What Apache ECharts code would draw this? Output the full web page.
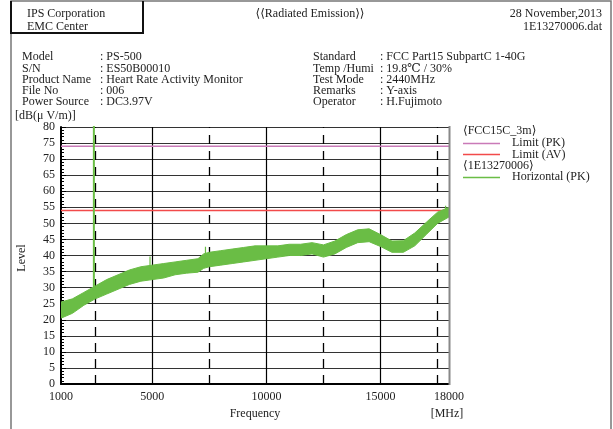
<!DOCTYPE html>
<html>
<head>
<meta charset="utf-8">
<script src="https://cdn.jsdelivr.net/npm/echarts@6/dist/echarts.min.js"></script>
<style>
  html, body { margin: 0; padding: 0; background: #fff; }
  #chart { width: 613px; height: 429px; }
</style>
</head>
<body>
<div id="chart"></div>
<script>
// Measured trace envelope (dBµV/m) of the horizontal peak scan
const freqMHz   = [1000, 1500, 2000, 2500, 3000, 3500, 4000, 4500, 5000, 5500, 6000, 6500, 7000, 7250, 7500, 8000, 8500, 9000, 9500, 10000, 10500, 11000, 11500, 12000, 12500, 13000, 13500, 14000, 14500, 15000, 15500, 16000, 16500, 17000, 17500, 18000];
const traceLow  = [20.5, 22.0, 24.5, 26.5, 28.0, 29.5, 31.0, 32.0, 32.5, 33.0, 34.0, 34.5, 34.8, 36.0, 36.5, 37.0, 37.5, 38.0, 38.5, 39.0, 39.5, 40.0, 40.0, 40.5, 39.5, 40.5, 42.5, 44.0, 44.3, 42.8, 41.0, 41.0, 43.0, 46.5, 50.0, 52.0];
const traceHigh = [25.5, 26.5, 28.5, 30.5, 32.5, 34.0, 35.5, 36.5, 37.0, 37.5, 38.0, 38.5, 39.0, 40.5, 41.0, 41.5, 42.0, 42.5, 43.0, 43.0, 43.0, 43.5, 43.5, 44.0, 43.3, 44.5, 46.5, 48.0, 48.3, 46.5, 44.5, 44.6, 47.0, 50.3, 53.5, 55.0];

// Narrow spikes on top of the trace (carrier at 2440 MHz runs off scale)
const spikeFreq = [2440, 4900, 7330, 17850];
const spikeBase = [29.0, 36.0, 39.0, 52.0];
const spikeTop  = [100, 39.7, 42.7, 55.5];

// FCC Part15 SubpartC limits
const limitPK = 74;
const limitAV = 54;

const xLabelValues = [1000, 5000, 10000, 15000, 18000];
const xSolidGrid   = [5000, 10000, 15000];
const xDashedGrid  = [2500, 7500, 12500, 17500];

const FONT = "'Liberation Serif', 'DejaVu Serif', serif";
const TXT = '#222';
const GREEN = '#6abd45';
const PINK = '#c97ab8';
const RED = '#f24a4a';

const chart = echarts.init(document.getElementById('chart'), null, { renderer: 'canvas' });

const bandItems = freqMHz.map((f, i) => [f, traceLow[i], traceHigh[i]]);

// The whole envelope is drawn as one polygon from the first item
function renderBand(params, api) {
  if (params.dataIndex !== 0) return null;
  const upper = bandItems.map(d => api.coord([d[0], d[2]]));
  const lower = bandItems.map(d => api.coord([d[0], d[1]])).reverse();
  return {
    type: 'polygon',
    shape: { points: upper.concat(lower) },
    style: { fill: GREEN, stroke: GREEN, lineWidth: 1 }
  };
}

const spikeSeries = spikeFreq.map((f, i) => ({
  type: 'line',
  data: [[f, spikeBase[i]], [f, spikeTop[i]]],
  symbol: 'none',
  lineStyle: { color: GREEN, width: i === 0 ? 2 : 1.2 },
  z: 6,
  silent: true
}));

function txt(x, y, text, extra) {
  return {
    type: 'text', x: x, y: y, silent: true,
    style: Object.assign({ text: text, font: '12px ' + FONT, fill: TXT, textVerticalAlign: 'middle' }, extra || {})
  };
}

const infoLeft = [['Model', ': PS-500'], ['S/N', ': ES50B00010'], ['Product Name', ': Heart Rate Activity Monitor'], ['File No', ': 006'], ['Power Source', ': DC3.97V']];
const infoRight = [['Standard', ': FCC Part15 SubpartC 1-40G'], ['Temp /Humi', ': 19.8\u2103 / 30%'], ['Test Mode', ': 2440MHz'], ['Remarks', ': Y-axis'], ['Operator', ': H.Fujimoto']];
const rowY = [57, 68.5, 80, 91, 102];

const graphics = [
  // page frame
  { type: 'polyline', silent: true, shape: { points: [[11, 429], [11, 1], [611, 1], [611, 429]] }, style: { stroke: '#777', lineWidth: 1.5, fill: null } },
  // company box
  { type: 'polyline', silent: true, shape: { points: [[11, 1], [11, 33], [143, 33], [143, 1]] }, style: { stroke: '#111', lineWidth: 2, fill: null } },
  txt(27, 14, 'IPS Corporation'),
  txt(27, 27, 'EMC Center'),
  txt(310, 14, '\u27E8\u27E8Radiated Emission\u27E9\u27E9', { textAlign: 'center' }),
  txt(602, 14, '28 November,2013', { textAlign: 'right' }),
  txt(602, 27, '1E13270006.dat', { textAlign: 'right' }),
  txt(15, 116, '[dB(\u03BC V/m)]'),
  { type: 'text', x: 22, y: 258, rotation: Math.PI / 2, silent: true,
    style: { text: 'Level', font: '12px ' + FONT, fill: TXT, textAlign: 'center', textVerticalAlign: 'middle' } },
  txt(255, 414, 'Frequency', { textAlign: 'center' }),
  txt(447, 414, '[MHz]', { textAlign: 'center' }),
  // right edge of the plot area
  { type: 'line', silent: true, z: 10, shape: { x1: 449.5, y1: 126, x2: 449.5, y2: 385 }, style: { stroke: '#888', lineWidth: 2 } },
  // legend
  txt(463, 131, '\u27E8FCC15C_3m\u27E9'),
  { type: 'line', silent: true, shape: { x1: 463, y1: 143.5, x2: 500, y2: 143.5 }, style: { stroke: PINK, lineWidth: 1.5 } },
  txt(512, 143, 'Limit (PK)'),
  { type: 'line', silent: true, shape: { x1: 463, y1: 154.5, x2: 500, y2: 154.5 }, style: { stroke: RED, lineWidth: 1.5 } },
  txt(512, 155, 'Limit (AV)'),
  txt(463, 166, '\u27E81E13270006\u27E9'),
  { type: 'line', silent: true, shape: { x1: 463, y1: 177.5, x2: 500, y2: 177.5 }, style: { stroke: GREEN, lineWidth: 1.5 } },
  txt(512, 177, 'Horizontal (PK)')
];
infoLeft.forEach((r, i) => { graphics.push(txt(22, rowY[i], r[0])); graphics.push(txt(100, rowY[i], r[1])); });
infoRight.forEach((r, i) => { graphics.push(txt(313, rowY[i], r[0])); graphics.push(txt(380, rowY[i], r[1])); });

const option = {
  animation: false,
  backgroundColor: '#fff',
  grid: { left: 61, top: 127, width: 388, height: 257, show: false },
  xAxis: {
    type: 'value', min: 1000, max: 18000,
    axisLine: { show: true, onZero: false, lineStyle: { color: '#000', width: 2 } },
    axisTick: { show: true, inside: true, length: 4, customValues: xDashedGrid.concat(xSolidGrid), lineStyle: { color: '#000' } },
    axisLabel: { customValues: xLabelValues, formatter: v => String(v), fontFamily: FONT, fontSize: 12, color: TXT, margin: 7 },
    splitLine: { show: false }
  },
  yAxis: {
    type: 'value', min: 0, max: 80, interval: 5,
    axisLine: { show: true, lineStyle: { color: '#000', width: 2 } },
    axisTick: { show: true, inside: true, length: 5, lineStyle: { color: '#000' } },
    minorTick: { show: true, splitNumber: 5, length: 3, lineStyle: { color: '#000' } },
    axisLabel: { fontFamily: FONT, fontSize: 12, color: TXT, margin: 6 },
    splitLine: { show: true, lineStyle: { color: '#333', width: 1 } }
  },
  graphic: graphics,
  series: [
    {
      type: 'line', data: [[1000, limitPK], [18000, limitPK]], symbol: 'none',
      lineStyle: { color: PINK, width: 1.5 }, z: 4, silent: true,
      markLine: {
        silent: true, symbol: 'none', label: { show: false }, z: 1,
        lineStyle: { color: '#000', width: 1.2, type: 'solid' },
        data: xSolidGrid.map(v => ({ xAxis: v }))
      }
    },
    {
      type: 'line', data: [[1000, limitAV], [18000, limitAV]], symbol: 'none',
      lineStyle: { color: RED, width: 1.5 }, z: 4, silent: true,
      markLine: {
        silent: true, symbol: 'none', label: { show: false }, z: 1,
        lineStyle: { color: '#000', width: 1.3, type: [9, 7] },
        data: xDashedGrid.map(v => ({ xAxis: v }))
      }
    },
    {
      type: 'custom', data: bandItems, renderItem: renderBand, clip: true, z: 5, silent: true,
      encode: { x: 0, y: [1, 2] }
    }
  ].concat(spikeSeries)
};

chart.setOption(option);
</script>
</body>
</html>
